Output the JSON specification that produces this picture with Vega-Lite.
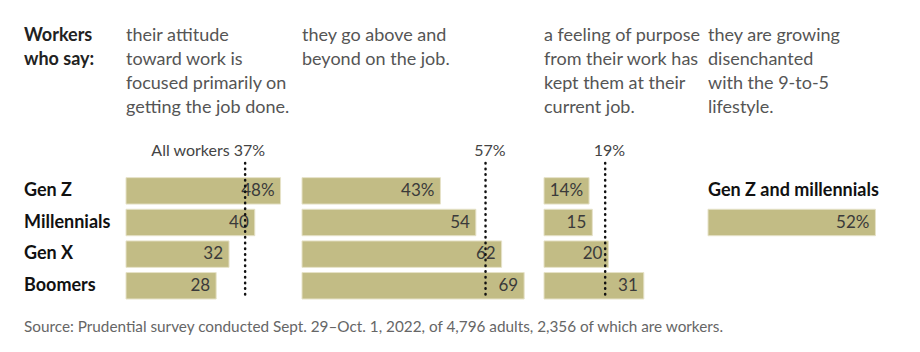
{
  "$schema": "https://vega.github.io/schema/vega-lite/v6.json",
  "background": "white",
  "padding": {"left": 24, "top": 27, "right": 10, "bottom": 10},
  "bounds": "flush",
  "spacing": 0,
  "title": {
    "text": "Source: Prudential survey conducted Sept. 29–Oct. 1, 2022, of 4,796 adults, 2,356 of which are workers.",
    "orient": "bottom",
    "anchor": "start",
    "frame": "bounds",
    "font": "Lato",
    "fontSize": 15.3,
    "fontWeight": "normal",
    "color": "#666666",
    "offset": 20
  },
  "config": {
    "view": {"stroke": null},
    "font": "Lato",
    "title": {"font": "Lato", "fontSize": 18, "fontWeight": "normal", "color": "#555555", "anchor": "start", "frame": "group", "lineHeight": 24, "offset": 26}
  },
  "datasets": {
    "bars": [
      {"q": "attitude", "gen": "Gen Z", "v": 48, "label": "48%"},
      {"q": "attitude", "gen": "Millennials", "v": 40, "label": "40"},
      {"q": "attitude", "gen": "Gen X", "v": 32, "label": "32"},
      {"q": "attitude", "gen": "Boomers", "v": 28, "label": "28"},
      {"q": "above", "gen": "Gen Z", "v": 43, "label": "43%"},
      {"q": "above", "gen": "Millennials", "v": 54, "label": "54"},
      {"q": "above", "gen": "Gen X", "v": 62, "label": "62"},
      {"q": "above", "gen": "Boomers", "v": 69, "label": "69"},
      {"q": "purpose", "gen": "Gen Z", "v": 14, "label": "14%"},
      {"q": "purpose", "gen": "Millennials", "v": 15, "label": "15"},
      {"q": "purpose", "gen": "Gen X", "v": 20, "label": "20"},
      {"q": "purpose", "gen": "Boomers", "v": 31, "label": "31"},
      {"q": "disenchanted", "gen": "Gen Z and millennials", "v": 52, "label": "52%"}
    ],
    "refs": [
      {"q": "attitude", "v": 37, "label": "All workers 37%"},
      {"q": "above", "v": 57, "label": "57%"},
      {"q": "purpose", "v": 19, "label": "19%"}
    ]
  },
  "hconcat": [
    {
      "width": 102,
      "height": 153,
      "title": {"text": ["Workers", "who say:", " ", " "], "fontWeight": "bold", "color": "#222222", "offset": 29},
      "data": {"name": "bars"},
      "transform": [{"filter": "datum.q == 'attitude'"}],
      "mark": {"type": "text", "align": "left", "baseline": "middle", "font": "Lato", "fontSize": 18, "fontWeight": "bold", "color": "#111111"},
      "encoding": {
        "x": {"datum": 0, "type": "quantitative", "scale": {"domain": [0, 1]}, "axis": null},
        "y": {"field": "gen", "type": "nominal", "scale": {"type": "band", "domain": ["ref", "Gen Z", "Millennials", "Gen X", "Boomers"], "paddingInner": 0.164, "paddingOuter": 0}, "axis": null},
        "text": {"field": "gen"}
      }
    },
    {
      "width": 176,
      "height": 153,
      "title": {"text": ["their attitude", "toward work is", "focused primarily on", "getting the job done."]},
      "layer": [
        {
          "data": {"name": "bars"},
          "transform": [{"filter": "datum.q == 'attitude'"}],
          "mark": {"type": "bar", "color": "#c2bc85", "stroke": "#e6e2c8", "strokeWidth": 1},
          "encoding": {
            "x": {"field": "v", "type": "quantitative", "scale": {"domain": [0, 54.66], "nice": false}, "axis": null},
            "y": {"field": "gen", "type": "nominal", "scale": {"type": "band", "domain": ["ref", "Gen Z", "Millennials", "Gen X", "Boomers"], "paddingInner": 0.164, "paddingOuter": 0}, "axis": null}
          }
        },
        {
          "data": {"name": "bars"},
          "transform": [{"filter": "datum.q == 'attitude'"}],
          "mark": {"type": "text", "align": "right", "baseline": "middle", "dx": -6, "fontSize": 17, "color": "#3a3a3a"},
          "encoding": {
            "x": {"field": "v", "type": "quantitative"},
            "y": {"field": "gen", "type": "nominal"},
            "text": {"field": "label"}
          }
        },
        {
          "data": {"name": "refs"},
          "transform": [{"filter": "datum.q == 'attitude'"}],
          "mark": {"type": "rule", "color": "#111111", "strokeWidth": 2.5, "strokeDash": [0.5, 5.2], "strokeCap": "round"},
          "encoding": {
            "x": {"field": "v", "type": "quantitative"},
            "y": {"datum": "ref", "type": "nominal", "bandPosition": 0.64},
            "y2": {"datum": "Boomers", "bandPosition": 1}
          }
        },
        {
          "data": {"name": "refs"},
          "transform": [{"filter": "datum.q == 'attitude'"}],
          "mark": {"type": "text", "align": "right", "baseline": "alphabetic", "dx": 20, "fontSize": 16, "color": "#444444"},
          "encoding": {
            "x": {"field": "v", "type": "quantitative"},
            "y": {"datum": "ref", "type": "nominal", "bandPosition": 0.38},
            "text": {"field": "label"}
          }
        }
      ]
    },
    {
      "width": 242,
      "height": 153,
      "title": {"text": ["they go above and", "beyond on the job.", " ", " "]},
      "layer": [
        {
          "data": {"name": "bars"},
          "transform": [{"filter": "datum.q == 'above'"}],
          "mark": {"type": "bar", "color": "#c2bc85", "stroke": "#e6e2c8", "strokeWidth": 1},
          "encoding": {
            "x": {"field": "v", "type": "quantitative", "scale": {"domain": [0, 75.16], "nice": false}, "axis": null},
            "y": {"field": "gen", "type": "nominal", "scale": {"type": "band", "domain": ["ref", "Gen Z", "Millennials", "Gen X", "Boomers"], "paddingInner": 0.164, "paddingOuter": 0}, "axis": null}
          }
        },
        {
          "data": {"name": "bars"},
          "transform": [{"filter": "datum.q == 'above'"}],
          "mark": {"type": "text", "align": "right", "baseline": "middle", "dx": -6, "fontSize": 17, "color": "#3a3a3a"},
          "encoding": {
            "x": {"field": "v", "type": "quantitative"},
            "y": {"field": "gen", "type": "nominal"},
            "text": {"field": "label"}
          }
        },
        {
          "data": {"name": "refs"},
          "transform": [{"filter": "datum.q == 'above'"}],
          "mark": {"type": "rule", "color": "#111111", "strokeWidth": 2.5, "strokeDash": [0.5, 5.2], "strokeCap": "round"},
          "encoding": {
            "x": {"field": "v", "type": "quantitative"},
            "y": {"datum": "ref", "type": "nominal", "bandPosition": 0.64},
            "y2": {"datum": "Boomers", "bandPosition": 1}
          }
        },
        {
          "data": {"name": "refs"},
          "transform": [{"filter": "datum.q == 'above'"}],
          "mark": {"type": "text", "align": "right", "baseline": "alphabetic", "dx": 20, "fontSize": 16, "color": "#444444"},
          "encoding": {
            "x": {"field": "v", "type": "quantitative"},
            "y": {"datum": "ref", "type": "nominal", "bandPosition": 0.38},
            "text": {"field": "label"}
          }
        }
      ]
    },
    {
      "width": 164,
      "height": 153,
      "title": {"text": ["a feeling of purpose", "from their work has", "kept them at their", "current job."]},
      "layer": [
        {
          "data": {"name": "bars"},
          "transform": [{"filter": "datum.q == 'purpose'"}],
          "mark": {"type": "bar", "color": "#c2bc85", "stroke": "#e6e2c8", "strokeWidth": 1},
          "encoding": {
            "x": {"field": "v", "type": "quantitative", "scale": {"domain": [0, 50.93], "nice": false}, "axis": null},
            "y": {"field": "gen", "type": "nominal", "scale": {"type": "band", "domain": ["ref", "Gen Z", "Millennials", "Gen X", "Boomers"], "paddingInner": 0.164, "paddingOuter": 0}, "axis": null}
          }
        },
        {
          "data": {"name": "bars"},
          "transform": [{"filter": "datum.q == 'purpose'"}],
          "mark": {"type": "text", "align": "right", "baseline": "middle", "dx": -6, "fontSize": 17, "color": "#3a3a3a"},
          "encoding": {
            "x": {"field": "v", "type": "quantitative"},
            "y": {"field": "gen", "type": "nominal"},
            "text": {"field": "label"}
          }
        },
        {
          "data": {"name": "refs"},
          "transform": [{"filter": "datum.q == 'purpose'"}],
          "mark": {"type": "rule", "color": "#111111", "strokeWidth": 2.5, "strokeDash": [0.5, 5.2], "strokeCap": "round"},
          "encoding": {
            "x": {"field": "v", "type": "quantitative"},
            "y": {"datum": "ref", "type": "nominal", "bandPosition": 0.64},
            "y2": {"datum": "Boomers", "bandPosition": 1}
          }
        },
        {
          "data": {"name": "refs"},
          "transform": [{"filter": "datum.q == 'purpose'"}],
          "mark": {"type": "text", "align": "right", "baseline": "alphabetic", "dx": 20, "fontSize": 16, "color": "#444444"},
          "encoding": {
            "x": {"field": "v", "type": "quantitative"},
            "y": {"datum": "ref", "type": "nominal", "bandPosition": 0.38},
            "text": {"field": "label"}
          }
        }
      ]
    },
    {
      "width": 182,
      "height": 153,
      "title": {"text": ["they are growing", "disenchanted", "with the 9-to-5", "lifestyle."], "offset": 29},
      "data": {"name": "bars"},
      "transform": [{"filter": "datum.q == 'disenchanted'"}],
      "layer": [
        {
          "mark": {"type": "bar", "color": "#c2bc85", "stroke": "#e6e2c8", "strokeWidth": 1},
          "encoding": {
            "x": {"field": "v", "type": "quantitative", "scale": {"domain": [0, 56.52], "nice": false}, "axis": null},
            "y": {"field": "gen", "type": "nominal", "scale": {"type": "band", "domain": ["r0", "head", "Gen Z and millennials", "r3", "r4"], "paddingInner": 0.164, "paddingOuter": 0}, "axis": null}
          }
        },
        {
          "mark": {"type": "text", "align": "right", "baseline": "middle", "dx": -6, "fontSize": 17, "color": "#3a3a3a"},
          "encoding": {
            "x": {"field": "v", "type": "quantitative"},
            "y": {"field": "gen", "type": "nominal"},
            "text": {"field": "label"}
          }
        },
        {
          "mark": {"type": "text", "align": "left", "baseline": "middle", "fontSize": 18, "fontWeight": "bold", "color": "#111111"},
          "encoding": {
            "x": {"datum": 0, "type": "quantitative"},
            "y": {"datum": "head", "type": "nominal"},
            "text": {"field": "gen"}
          }
        }
      ]
    }
  ]
}
